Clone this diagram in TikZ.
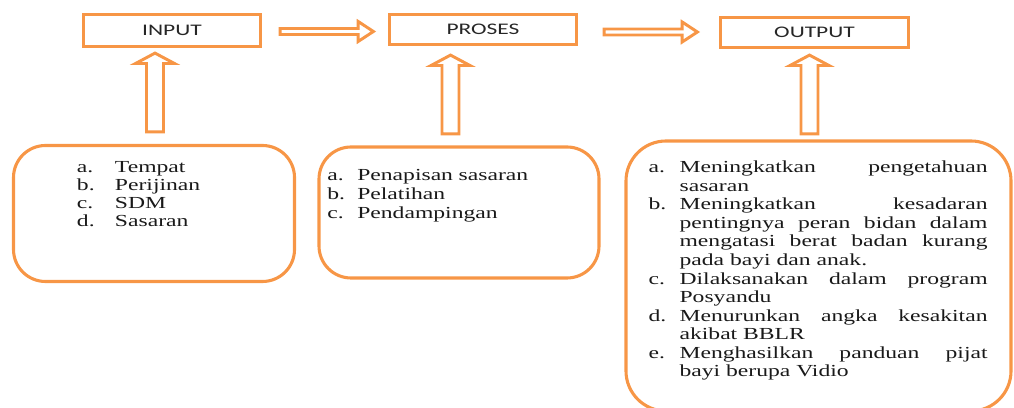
\documentclass[tikz,border=0pt]{standalone}
\usepackage{fontspec}
\setmainfont{Liberation Serif}[FakeStretch=1.4]
\newfontfamily\capfont{Carlito}[FakeStretch=1.45]
\usetikzlibrary{calc}
\definecolor{boxorange}{RGB}{247,150,70}

% hollow block arrows: \rblock{start}{tip} runs to the right, \ublock{start}{tip} runs up
\newcommand{\rblock}[2]{%
  \draw[blk] let \p1=(#1), \p2=(#2) in
    (\x1,\y1+0.075cm) -- (\x2-0.38cm,\y1+0.075cm) -- (\x2-0.38cm,\y1+0.25cm) -- (\x2,\y1)
    -- (\x2-0.38cm,\y1-0.25cm) -- (\x2-0.38cm,\y1-0.075cm) -- (\x1,\y1-0.075cm) -- cycle;}
\newcommand{\ublock}[2]{%
  \draw[blk] let \p1=(#1), \p2=(#2) in
    (\x1-0.2125cm,\y1) -- (\x1-0.2125cm,\y2-0.26cm) -- (\x1-0.4875cm,\y2-0.26cm) -- (\x1,\y2)
    -- (\x1+0.4875cm,\y2-0.26cm) -- (\x1+0.2125cm,\y2-0.26cm) -- (\x1+0.2125cm,\y1) -- cycle;}
% one list item with hanging label
\newcommand{\itm}[2]{\hangindent=0.775cm\hangafter=1\noindent\makebox[0.775cm][l]{#1}#2\par}

\begin{document}
\begin{tikzpicture}[
    stage/.style={draw=boxorange, line width=2.3pt, align=center, inner sep=0pt, font=\capfont\fontsize{11.5}{13}\selectfont, text=black!85},
    group/.style={draw=boxorange, line width=2.2pt, rounded corners=0.8cm},
    blk/.style={draw=boxorange, line width=2.1pt, fill=white, line join=miter},
    lst/.style={anchor=base west, inner sep=0pt, font=\fontsize{12}{13.2}\selectfont, text=black!90}
]
\useasboundingbox (0,0) rectangle (25.35,10.2);
\clip (0,0) rectangle (25.35,10.2);

% top row
\node[stage, minimum width=4.425cm, minimum height=0.8cm] (input) at (4.30,9.4375) {INPUT};
\node[stage, minimum width=4.675cm, minimum height=0.75cm] (proses) at (12.075,9.4625) {PROSES};
\node[stage, minimum width=4.7cm, minimum height=0.75cm] (output) at (20.3625,9.3875) {OUTPUT};

% lower boxes
\node[group, minimum width=7.025cm, minimum height=3.4cm] (inbox) at (3.85,4.8625) {};
\node[group, minimum width=7.0cm, minimum height=3.275cm] (prbox) at (11.475,4.8875) {};
\node[group, rounded corners=1cm, minimum width=9.625cm, minimum height=6.75cm] (outbox) at (20.4625,3.3) {};

\node[lst, text width=4.5cm, align=left, font=\fontsize{12}{12.8}\selectfont] (intext) at (1.9175,5.8825)
  {\makebox[0.95cm][l]{a.}Tempat\\ \makebox[0.95cm][l]{b.}Perijinan\\
   \makebox[0.95cm][l]{c.}SDM\\ \makebox[0.95cm][l]{d.}Sasaran};
\node[lst, text width=5.5cm, align=left] (prtext) at (8.175,5.675)
  {\makebox[0.75cm][l]{a.}Penapisan sasaran\\ \makebox[0.75cm][l]{b.}Pelatihan\\
   \makebox[0.75cm][l]{c.}Pendampingan};
\node[lst, text width=8.475cm, align=justify] (outtext) at (16.2075,5.8825)
  {\itm{a.}{Meningkatkan pengetahuan\linebreak sasaran}
   \itm{b.}{Meningkatkan kesadaran\linebreak pentingnya peran bidan dalam\linebreak mengatasi berat badan kurang\linebreak pada bayi dan anak.}
   \itm{c.}{Dilaksanakan dalam program\linebreak Posyandu}
   \itm{d.}{Menurunkan angka kesakitan\linebreak akibat BBLR}
   \itm{e.}{Menghasilkan panduan pijat\linebreak bayi berupa Vidio}};

% arrow ends
\coordinate (r1s) at ($(input.east)+(0.45,-0.025)$);
\coordinate (r1e) at ($(proses.west)+(-0.3625,0)$);
\coordinate (r2s) at ($(proses.east)+(0.65,-0.0625)$);
\coordinate (r2e) at ($(output.west)+(-0.5375,0)$);
\coordinate (u1s) at ($(inbox.north)+(0.025,0.3)$);
\coordinate (u1e) at ($(input.south)+(0,-0.125)$);
\coordinate (u2s) at ($(prbox.north)+(-0.2125,0.2875)$);
\coordinate (u2e) at ($(proses.south)+(0,-0.225)$);
\coordinate (u3s) at ($(outbox.north)+(-0.225,0.1375)$);
\coordinate (u3e) at ($(output.south)+(0,-0.15)$);

\rblock{r1s}{r1e}
\rblock{r2s}{r2e}
\ublock{u1s}{u1e}
\ublock{u2s}{u2e}
\ublock{u3s}{u3e}
\end{tikzpicture}
\end{document}
